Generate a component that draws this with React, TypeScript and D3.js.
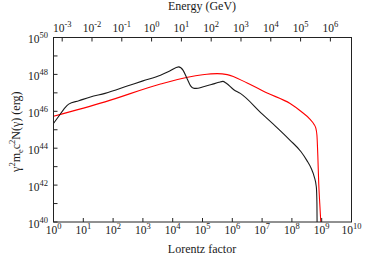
import React from "react";
import * as d3 from "d3";

// Data (log10 of Lorentz factor, log10 of gamma^2 m_e c^2 N(gamma) in erg)
const blackLogGamma = [0, 0.17, 0.35, 0.51, 0.85, 1.24, 1.73, 2.5, 3.0, 3.59, 3.9, 4.2, 4.35, 4.48, 4.6, 4.72, 4.85, 5.0, 5.3, 5.55, 5.68, 5.8, 6.05, 6.27, 7.0, 7.5, 7.94, 8.3, 8.5, 8.65, 8.75, 8.82, 8.84, 8.845];
const blackLogValue = [45.34, 45.72, 46.12, 46.39, 46.57, 46.78, 46.97, 47.38, 47.65, 47.96, 48.18, 48.41, 48.22, 47.78, 47.38, 47.24, 47.25, 47.32, 47.45, 47.57, 47.62, 47.52, 47.17, 46.97, 45.86, 45.12, 44.43, 43.82, 43.34, 42.9, 42.45, 41.9, 41.0, 40.0];

const redLogGamma = [0, 1.73, 3.59, 4.5, 5.0, 5.49, 5.83, 6.5, 7.17, 7.94, 8.3, 8.62, 8.74, 8.8, 8.84, 8.87, 8.9, 8.935, 8.97];
const redLogValue = [45.73, 46.51, 47.48, 47.85, 47.98, 48.04, 47.99, 47.53, 46.99, 46.42, 46.0, 45.55, 45.3, 45.1, 44.7, 43.6, 42.1, 41.0, 40.0];

const gammaTicks = [0, 1, 2, 3, 4, 5, 6, 7, 8, 9, 10];
const energyTicks = [-3, -2, -1, 0, 1, 2, 3, 4, 5, 6];
const yTicks = [40, 41, 42, 43, 44, 45, 46, 47, 48, 49, 50];
const yLabelTicks = [40, 42, 44, 46, 48, 50];

const ME_GEV = 0.511e-3;

const W = 374;
const H = 262;
const left = 53.5;
const right = 351.5;
const top = 37.5;
const bottom = 222;

export default function App() {
  const x = d3.scaleLog().domain([1, 1e10]).range([left, right]);
  const xE = d3.scaleLog().domain([ME_GEV, ME_GEV * 1e10]).range([left, right]);
  const y = d3.scaleLog().domain([1e40, 1e50]).range([bottom, top]);

  const line = d3
    .line<[number, number]>()
    .x((d) => x(Math.pow(10, d[0])))
    .y((d) => y(Math.pow(10, d[1])))
    .curve(d3.curveMonotoneX);

  const blackPts = blackLogGamma.map((g, i) => [g, blackLogValue[i]] as [number, number]);
  const redPts = redLogGamma.map((g, i) => [g, redLogValue[i]] as [number, number]);

  const font = "'Liberation Serif', 'Times New Roman', serif";
  const fs = 11.5;
  const sup = 8.5;
  const axisColor = "#222";
  const textColor = "#1a1a1a";

  return (
    <svg width={W} height={H} style={{ position: "absolute", left: 0, top: 0 }} fontFamily={font}>
      <rect x={0} y={0} width={W} height={H} fill="#fff" />
      <defs>
        <clipPath id="plotclip">
          <rect x={left} y={top} width={right - left} height={bottom - top} />
        </clipPath>
      </defs>
      <g clipPath="url(#plotclip)" fill="none">
        <path d={line(redPts) || ""} stroke="#ff0000" strokeWidth={1.1} />
        <path d={line(blackPts) || ""} stroke="#1a1a1a" strokeWidth={1.1} />
      </g>
      {/* frame */}
      <rect x={left} y={top} width={right - left} height={bottom - top} fill="none" stroke={axisColor} strokeWidth={1} />
      {/* bottom ticks */}
      {gammaTicks.map((e) => {
        const px = x(Math.pow(10, e));
        return (
          <g key={"b" + e}>
            <line x1={px} x2={px} y1={bottom} y2={bottom - 4} stroke={axisColor} />
            <text x={px} y={233.5} fontSize={fs} textAnchor="middle" fill={textColor}>
              10<tspan dy={-5} fontSize={sup}>{e}</tspan>
            </text>
          </g>
        );
      })}
      {/* top ticks (energy) */}
      {energyTicks.map((e) => {
        const px = xE(Math.pow(10, e));
        return (
          <g key={"t" + e}>
            <line x1={px} x2={px} y1={top} y2={top + 4} stroke={axisColor} />
            <text x={px} y={31.5} fontSize={fs} textAnchor="middle" fill={textColor}>
              10<tspan dy={-5} fontSize={sup}>{e}</tspan>
            </text>
          </g>
        );
      })}
      {/* left ticks */}
      {yTicks.map((e) => {
        const py = y(Math.pow(10, e));
        return <line key={"l" + e} x1={left} x2={left + 4} y1={py} y2={py} stroke={axisColor} />;
      })}
      {yLabelTicks.map((e) => {
        const py = y(Math.pow(10, e));
        return (
          <text key={"ll" + e} x={48} y={py + 5.8} fontSize={fs} textAnchor="end" fill={textColor}>
            10<tspan dy={-5} fontSize={sup}>{e}</tspan>
          </text>
        );
      })}
      {/* axis titles */}
      <text x={202} y={253} fontSize={12} textAnchor="middle" fill={textColor}>
        Lorentz factor
      </text>
      <text x={202} y={10} fontSize={12} textAnchor="middle" fill={textColor}>
        Energy (GeV)
      </text>
      <text transform={`translate(20,${(top + bottom) / 2 + 2}) rotate(-90)`} fontSize={12} textAnchor="middle" fill={textColor}>
        γ<tspan dy={-5} fontSize={sup}>2</tspan>
        <tspan dy={5}>m</tspan>
        <tspan dy={2.5} fontSize={sup}>e</tspan>
        <tspan dy={-2.5}>c</tspan>
        <tspan dy={-5} fontSize={sup}>2</tspan>
        <tspan dy={5}>N(γ) (erg)</tspan>
      </text>
    </svg>
  );
}
